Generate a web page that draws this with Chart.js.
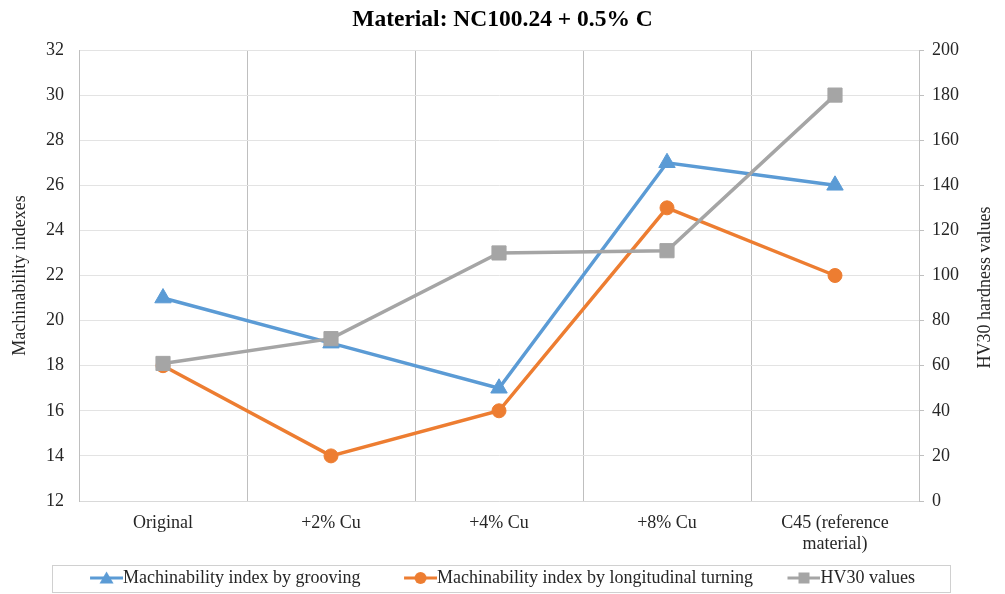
<!DOCTYPE html>
<html>
<head>
<meta charset="utf-8">
<script src="https://cdn.jsdelivr.net/npm/chart.js@4.4.1/dist/chart.umd.min.js"></script>
<style>
  html, body { margin: 0; padding: 0; background: #fff; }
  #wrap { width: 1005px; height: 594px; position: relative; }
</style>
</head>
<body>
<div id="wrap"><canvas id="chart" width="1005" height="594"></canvas></div>
<script>
// Categories and measured values
const categories = ['Original', '+2% Cu', '+4% Cu', '+8% Cu', ['C45 (reference', 'material)']];
const groovingIndex = [21, 19, 17, 27, 26];
const turningIndex = [18, 14, 16, 25, 22];
const hv30Values = [61, 72, 110, 111, 180];

const seriesNames = [
  'Machinability index by grooving',
  'Machinability index by longitudinal turning',
  'HV30 values'
];
const titleText = 'Material: NC100.24 + 0.5% C';
const leftAxisTitle = 'Machinability indexes';
const rightAxisTitle = 'HV30 hardness values';

const BLUE = '#5B9BD5';
const ORANGE = '#ED7D31';
const GREY = '#A5A5A5';
const SERIF = '"Liberation Serif", "Times New Roman", serif';
const TEXT = '#262626';
const FONT_SIZE = 18;

// Legend icon: short line with the series marker in the middle
function legendIcon(color, shape) {
  const c = document.createElement('canvas');
  c.width = 42; c.height = 18;
  const g = c.getContext('2d');
  g.strokeStyle = color; g.fillStyle = color; g.lineWidth = 3;
  g.beginPath(); g.moveTo(9, 9); g.lineTo(42, 9); g.stroke();
  const cx = 25.5, cy = 9;
  g.beginPath();
  if (shape === 'triangle') {
    g.moveTo(cx, cy - 6.5); g.lineTo(cx + 7, cy + 5.5); g.lineTo(cx - 7, cy + 5.5); g.closePath();
  } else if (shape === 'circle') {
    g.arc(cx, cy, 6, 0, Math.PI * 2);
  } else {
    g.rect(cx - 5.5, cy - 5.5, 11, 11);
  }
  g.fill();
  return c;
}
const icons = [legendIcon(BLUE, 'triangle'), legendIcon(ORANGE, 'circle'), legendIcon(GREY, 'rect')];
// extra space after an entry to separate it from the next one
const itemGaps = ['\u2002\u2002\u2002 ', '\u2002\u2002 ', ''];

// Border around the legend row and the right-hand axis title
const chartExtras = {
  id: 'chartExtras',
  afterDraw(chart) {
    const ctx = chart.ctx;
    const lg = chart.legend;
    ctx.save();
    if (lg) {
      ctx.strokeStyle = '#d0d0d0';
      ctx.lineWidth = 1;
      ctx.strokeRect(52.5, lg.top + 8.5, 898, 27);
    }
    const area = chart.chartArea;
    ctx.translate(985, (area.top + area.bottom) / 2 + 12);
    ctx.rotate(-Math.PI / 2);
    ctx.fillStyle = TEXT;
    ctx.font = FONT_SIZE + 'px ' + SERIF;
    ctx.textAlign = 'center';
    ctx.textBaseline = 'middle';
    ctx.fillText(rightAxisTitle, 0, 0);
    ctx.restore();
  }
};

new Chart(document.getElementById('chart'), {
  type: 'line',
  data: {
    labels: categories,
    datasets: [
      {
        label: seriesNames[0], data: groovingIndex, yAxisID: 'y', order: 3,
        borderColor: BLUE, backgroundColor: BLUE, borderWidth: 3.5,
        pointStyle: 'triangle', pointRadius: 9.5, pointBorderWidth: 1,
        pointBackgroundColor: BLUE, pointBorderColor: BLUE
      },
      {
        label: seriesNames[1], data: turningIndex, yAxisID: 'y', order: 2,
        borderColor: ORANGE, backgroundColor: ORANGE, borderWidth: 3.5,
        pointStyle: 'circle', pointRadius: 7, pointBorderWidth: 1,
        pointBackgroundColor: ORANGE, pointBorderColor: ORANGE
      },
      {
        label: seriesNames[2], data: hv30Values, yAxisID: 'y1', order: 1,
        borderColor: GREY, backgroundColor: GREY, borderWidth: 3.5,
        pointStyle: 'rect', pointRadius: 10, pointBorderWidth: 1,
        pointBackgroundColor: GREY, pointBorderColor: GREY
      }
    ]
  },
  options: {
    responsive: false,
    animation: false,
    events: [],
    layout: { padding: 0 },
    elements: { line: { tension: 0 } },
    plugins: {
      tooltip: { enabled: false },
      title: {
        display: true,
        text: titleText,
        color: '#000',
        font: { family: SERIF, size: 23.5, weight: 'bold' },
        padding: { top: 6, bottom: 15.8 }
      },
      legend: {
        position: 'bottom',
        maxHeight: 37,
        labels: {
          usePointStyle: true,
          pointStyleWidth: 24,
          padding: 12,
          color: TEXT,
          font: { family: SERIF, size: FONT_SIZE },
          generateLabels() {
            return seriesNames.map((name, i) => ({
              text: name + itemGaps[i],
              fillStyle: [BLUE, ORANGE, GREY][i],
              strokeStyle: [BLUE, ORANGE, GREY][i],
              lineWidth: 0,
              pointStyle: icons[i],
              hidden: false,
              datasetIndex: i,
              fontColor: TEXT
            }));
          }
        }
      }
    },
    scales: {
      x: {
        type: 'category',
        offset: true,
        grid: { offset: true, color: '#bfbfbf', lineWidth: 1, drawTicks: false },
        border: { display: true, color: '#d9d9d9' },
        ticks: {
          color: TEXT, padding: 11, maxRotation: 0, autoSkip: false,
          font: { family: SERIF, size: FONT_SIZE }
        },
        afterFit(s) { s.height = 56; }
      },
      y: {
        position: 'left',
        min: 12, max: 32,
        ticks: { stepSize: 2, color: TEXT, padding: 15, font: { family: SERIF, size: FONT_SIZE } },
        grid: { color: '#e3e3e3', drawTicks: false },
        border: { color: '#bfbfbf' },
        title: {
          display: true, text: leftAxisTitle, color: TEXT,
          font: { family: SERIF, size: FONT_SIZE }, padding: { top: 9, bottom: 0 }
        },
        afterFit(s) { s.width = 79; }
      },
      y1: {
        position: 'right',
        min: 0, max: 200,
        ticks: { stepSize: 20, color: TEXT, padding: 8, font: { family: SERIF, size: FONT_SIZE } },
        grid: { drawOnChartArea: false, drawTicks: true, tickLength: 5, color: '#bfbfbf' },
        border: { color: '#bfbfbf' },
        afterFit(s) { s.width = 86; }
      }
    }
  },
  plugins: [chartExtras]
});
</script>
</body>
</html>
